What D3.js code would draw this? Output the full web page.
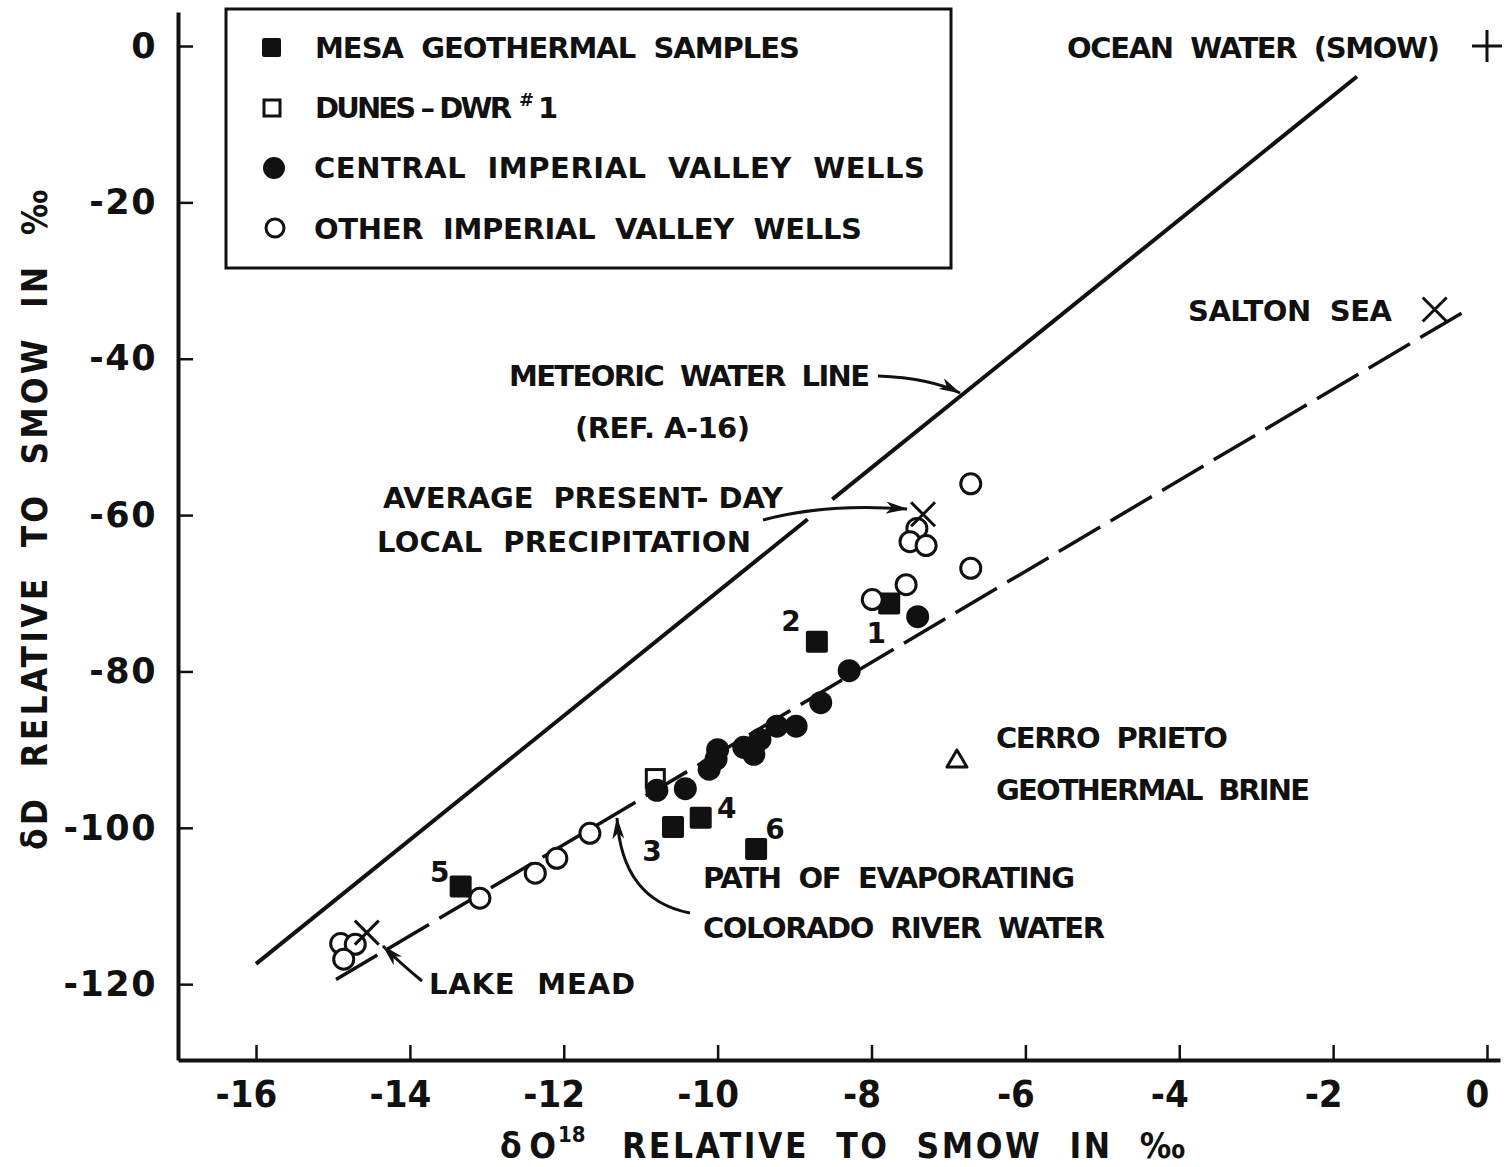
<!DOCTYPE html>
<html><head><meta charset="utf-8">
<script src="https://cdn.jsdelivr.net/npm/d3@7"></script>
<style>
html,body{margin:0;padding:0;background:#fff;}
svg{display:block;}
text{font-family:"DejaVu Sans",sans-serif;font-weight:bold;fill:#111;white-space:pre;}
.cond{font-family:"DejaVu Sans Condensed","DejaVu Sans",sans-serif;}
</style></head><body>
<svg id="c" width="1506" height="1167"></svg>
<script>
// ---------------- DATA ----------------
const xTicks = [-16, -14, -12, -10, -8, -6, -4, -2, 0];
const yTicks = [0, -20, -40, -60, -80, -100, -120];

const mesaLabels = ["1", "2", "3", "4", "5", "6"];
const mesaO18 = [-7.77, -8.71, -10.58, -10.22, -13.34, -9.50];
const mesaD   = [-71.3, -76.2, -99.9, -98.7, -107.5, -102.7];

const dunesO18 = [-10.81];
const dunesD   = [-93.7];

const centralO18 = [-7.40, -8.29, -8.66, -8.98, -9.23, -9.45, -9.53, -9.66, -10.00, -10.02, -10.11, -10.42, -10.79];
const centralD   = [-73.0, -79.9, -84.0, -87.0, -87.0, -88.7, -90.6, -89.7, -90.0, -91.2, -92.5, -95.0, -95.2];

const otherO18 = [-6.71, -7.41, -7.50, -7.29, -6.71, -7.55, -7.99, -11.66, -12.09, -12.37, -13.09, -14.90, -14.71, -14.86];
const otherD   = [-56.0, -61.7, -63.4, -63.9, -66.8, -68.9, -70.8, -100.7, -103.9, -105.8, -109.0, -114.8, -114.9, -116.8];

const refNames   = ["OCEAN WATER (SMOW)", "SALTON SEA", "AVERAGE PRESENT-DAY LOCAL PRECIPITATION", "LAKE MEAD", "CERRO PRIETO GEOTHERMAL BRINE"];
const refSymbols = ["plus", "cross", "cross", "cross", "triangle"];
const refO18     = [0, -0.68, -7.33, -14.56, -6.89];
const refD       = [0, -33.7, -59.9, -113.4, -91.2];

const meteoricO18 = [-16, -1.69];
const meteoricD   = [-117.4, -3.9];
const meteoricGapO18 = [-8.83, -8.51];
const evapO18 = [-14.96, -0.25];
const evapD   = [-119.4, -33.7];

const legendLabels = ["MESA  GEOTHERMAL  SAMPLES", "DUNES – DWR", "CENTRAL  IMPERIAL  VALLEY  WELLS", "OTHER  IMPERIAL  VALLEY  WELLS"];

// ---------------- CHART ----------------
const svg = d3.select("#c");
svg.append("rect").attr("width",1506).attr("height",1167).attr("fill","#fff");
const ink = "#111";

const x = d3.scaleLinear().domain([-17.014, 0.169]).range([178, 1500]);
const y = d3.scaleLinear().domain([-129.7, 4.35]).range([1060, 12]);

const defs = svg.append("defs");
defs.append("marker").attr("id","ah").attr("viewBox","0 0 22 12").attr("refX",21).attr("refY",6)
  .attr("markerWidth",22).attr("markerHeight",12).attr("markerUnits","userSpaceOnUse").attr("orient","auto")
  .append("path").attr("d","M0,0 L22,6 L0,12 L6,6 Z").attr("fill",ink);

const fmt = d => d < 0 ? "-" + Math.abs(d) : String(d);

// X axis
const gx = svg.append("g").attr("transform","translate(0,1060)")
  .call(d3.axisBottom(x).tickValues(xTicks).tickSizeInner(-15).tickSizeOuter(0).tickPadding(20).tickFormat(fmt));
gx.select(".domain").attr("stroke",ink).attr("stroke-width",4);
gx.selectAll(".tick line").attr("stroke",ink).attr("stroke-width",2.5);
gx.selectAll(".tick text").attr("font-size",38).attr("fill",ink).attr("dx",-10)
  .style("font-family",'"DejaVu Sans Condensed","DejaVu Sans",sans-serif').style("font-weight","bold");

// Y axis
const gy = svg.append("g").attr("transform","translate(178,0)")
  .call(d3.axisLeft(y).tickValues(yTicks).tickSizeInner(-15).tickSizeOuter(0).tickPadding(21).tickFormat(fmt));
gy.select(".domain").attr("stroke",ink).attr("stroke-width",4);
gy.selectAll(".tick line").attr("stroke",ink).attr("stroke-width",2.5);
gy.selectAll(".tick text").attr("font-size",35).attr("fill",ink).attr("letter-spacing",1.5)
  .style("font-family",'"DejaVu Sans",sans-serif').style("font-weight","bold");

// Axis titles
svg.append("text").attr("class","cond").attr("transform","translate(47,520) rotate(-90)")
  .attr("text-anchor","middle").attr("font-size",35)
  .attr("textLength",660).attr("lengthAdjust","spacing").text("δD  RELATIVE  TO  SMOW  IN  ‰");
svg.append("text").attr("class","cond").attr("x",500).attr("y",1158).attr("font-size",35)
  .attr("textLength",56).attr("lengthAdjust","spacing").text("δO");
svg.append("text").attr("class","cond").attr("x",558).attr("y",1142).attr("font-size",22).text("18");
svg.append("text").attr("class","cond").attr("x",622).attr("y",1158).attr("font-size",35)
  .attr("textLength",563).attr("lengthAdjust","spacing").text("RELATIVE  TO  SMOW  IN  ‰");

// Lines
const line = d3.line().x(d => x(d[0])).y(d => y(d[1]));
const mSlope = (meteoricD[1]-meteoricD[0])/(meteoricO18[1]-meteoricO18[0]);
const mAt = o => meteoricD[0] + (o - meteoricO18[0]) * mSlope;
svg.append("path").attr("d", line([[meteoricO18[0], meteoricD[0]], [meteoricGapO18[0], mAt(meteoricGapO18[0])]]))
  .attr("fill","none").attr("stroke",ink).attr("stroke-width",4);
svg.append("path").attr("d", line([[meteoricGapO18[1], mAt(meteoricGapO18[1])], [meteoricO18[1], meteoricD[1]]]))
  .attr("fill","none").attr("stroke",ink).attr("stroke-width",4);
svg.append("path").attr("d", line(evapO18.map((o,i)=>[o, evapD[i]])))
  .attr("fill","none").attr("stroke",ink).attr("stroke-width",3.5).attr("stroke-dasharray","48 12");

// Dunes open square
svg.selectAll(".dunes").data(dunesO18.map((o,i)=>({o, d:dunesD[i]}))).enter().append("rect")
  .attr("x", p => x(p.o)-9).attr("y", p => y(p.d)-9).attr("width",18).attr("height",18)
  .attr("fill","#fff").attr("stroke",ink).attr("stroke-width",3);

// Mesa filled squares
const mesa = mesaO18.map((o,i)=>({o, d:mesaD[i], lab:mesaLabels[i]}));
svg.selectAll(".mesa").data(mesa).enter().append("rect")
  .attr("x", p => x(p.o)-11).attr("y", p => y(p.d)-11).attr("width",22).attr("height",22).attr("rx",2)
  .attr("fill",ink);

// Central filled circles
svg.selectAll(".central").data(centralO18.map((o,i)=>({o, d:centralD[i]}))).enter().append("circle")
  .attr("cx", p => x(p.o)).attr("cy", p => y(p.d)).attr("r",11.5).attr("fill",ink);

// Other open circles
svg.selectAll(".other").data(otherO18.map((o,i)=>({o, d:otherD[i]}))).enter().append("circle")
  .attr("cx", p => x(p.o)).attr("cy", p => y(p.d)).attr("r",10).attr("fill","#fff")
  .attr("stroke",ink).attr("stroke-width",3);

// Reference markers
const refs = refO18.map((o,i)=>({o, d:refD[i], s:refSymbols[i], name:refNames[i]}));
refs.forEach(p => {
  const cx = x(p.o), cy = y(p.d);
  if (p.s === "plus") {
    svg.append("path").attr("d",`M${cx-15},${cy}H${cx+15}M${cx},${cy-16}V${cy+16}`).attr("stroke",ink).attr("stroke-width",3);
  } else if (p.s === "cross") {
    svg.append("path").attr("d",`M${cx-12},${cy-12}L${cx+12},${cy+12}M${cx+12},${cy-12}L${cx-12},${cy+12}`).attr("stroke",ink).attr("stroke-width",3);
  } else {
    svg.append("path").attr("d",`M${cx},${cy-9}L${cx+10},${cy+8}L${cx-10},${cy+8}Z`).attr("fill","none").attr("stroke",ink).attr("stroke-width",3).attr("stroke-linejoin","round");
  }
});

// Mesa number labels (offsets from points)
const mesaLabOff = {"1":[-13,30], "2":[-26,-21], "3":[-21,24], "4":[26,-10], "5":[-21,-14], "6":[19,-20]};
mesa.forEach(p => {
  const off = mesaLabOff[p.lab];
  svg.append("text").attr("x", x(p.o)+off[0]).attr("y", y(p.d)+off[1]+10).attr("text-anchor","middle")
    .attr("font-size",28).text(p.lab);
});

// Legend
svg.append("rect").attr("x",226).attr("y",9).attr("width",725).attr("height",259)
  .attr("fill","none").attr("stroke",ink).attr("stroke-width",3);
svg.append("rect").attr("x",262).attr("y",38).attr("width",19).attr("height",19).attr("rx",2).attr("fill",ink);
svg.append("rect").attr("x",264).attr("y",100).attr("width",16).attr("height",16).attr("fill","none").attr("stroke",ink).attr("stroke-width",3);
svg.append("circle").attr("cx",274).attr("cy",168).attr("r",11).attr("fill",ink);
svg.append("circle").attr("cx",275).attr("cy",228).attr("r",9).attr("fill","none").attr("stroke",ink).attr("stroke-width",3);

function label(px, py, str, len, size) {
  const t = svg.append("text").attr("x",px).attr("y",py).attr("font-size",size||29).text(str);
  if (len) t.attr("textLength",len).attr("lengthAdjust","spacing");
  return t;
}
label(315, 58, legendLabels[0], 485);
label(315, 118, legendLabels[1], 197);
label(519, 106, "#", null, 18);
label(538, 118, "1", null, 29);
label(314, 178, legendLabels[2], 611);
label(314, 239, legendLabels[3], 548);

// Annotations
label(1067, 58, "OCEAN  WATER  (SMOW)", 373);
label(1188, 321, "SALTON  SEA", 204);
label(509, 386, "METEORIC  WATER  LINE", 361);
label(575, 438, "(REF. A-16)", 175);
label(383, 508, "AVERAGE  PRESENT- DAY", 400);
label(377, 552, "LOCAL  PRECIPITATION", 374);
label(996, 748, "CERRO  PRIETO", 232);
label(996, 800, "GEOTHERMAL  BRINE", 314);
label(703, 888, "PATH  OF  EVAPORATING", 372);
label(703, 938, "COLORADO  RIVER  WATER", 402);
label(429, 994, "LAKE  MEAD", 206);

// Arrows
const arrows = [
  "M878,376 Q930,378 960,393",
  "M763,520 Q825,503 907,509",
  "M422,981 Q400,963 383,946",
  "M690,913 Q622,900 617,818"
];
arrows.forEach(d => svg.append("path").attr("d",d).attr("fill","none").attr("stroke",ink)
  .attr("stroke-width",3).attr("marker-end","url(#ah)"));
</script>
</body></html>
